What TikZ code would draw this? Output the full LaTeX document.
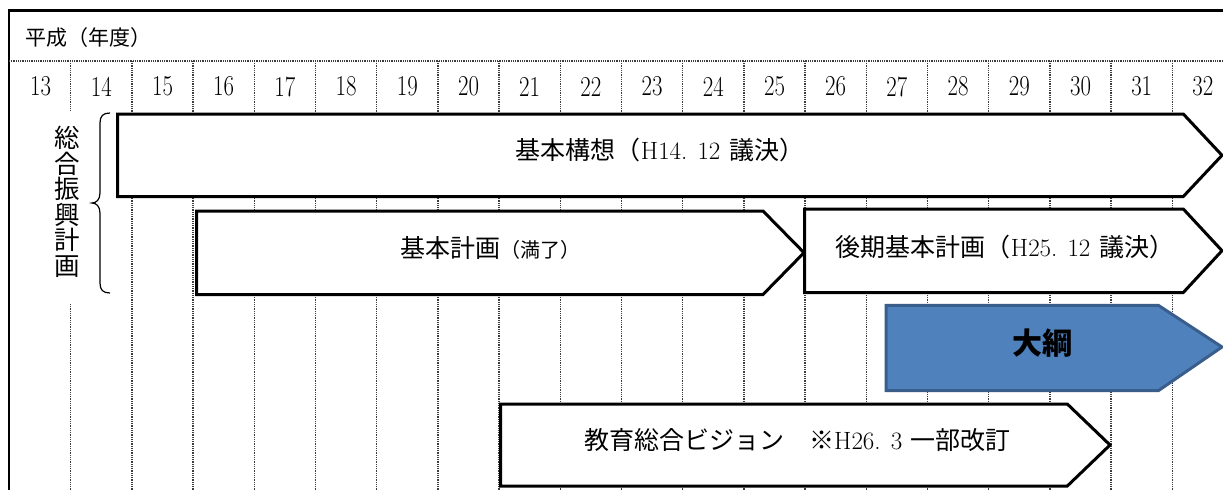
\documentclass[tikz,border=0pt]{standalone}
\usepackage{graphicx}
\usepackage{fontspec}
\newfontfamily\jp{Noto Sans CJK JP}
\newcommand\lat[1]{{\rmfamily #1}}
\definecolor{taikofill}{HTML}{4F81BD}
\definecolor{taikoborder}{HTML}{3A5E8C}
\definecolor{gridgray}{HTML}{3C3C3C}
\begin{document}
\begin{tikzpicture}[x=1pt,y=-1pt,
  frame/.style={line width=2.5pt,black,line join=miter},
  gridline/.style={line width=1.3pt,gridgray,dash pattern=on 1pt off 0.8pt},
  plan/.style={line width=3pt,draw=black,fill=white,line join=miter},
  blueplan/.style={line width=3pt,draw=taikoborder,fill=taikofill,line join=miter},
  yr/.style={font=\fontsize{24}{24}\selectfont,inner sep=0pt},
  lbl/.style={font=\jp\fontsize{25}{27}\selectfont,inner sep=0pt}
]
\useasboundingbox (0,0) rectangle (1223,490);
\fill[white] (0,0) rectangle (1223,490);
% frame
\draw[frame] (1223,10.5) -- (9,10.5) -- (9,490);
% grid
\draw[gridline] (9,61) -- (1223,61);
\draw[gridline] (70.7,61) -- (70.7,111);
\draw[gridline] (70.7,304) -- (70.7,490);
\foreach \i in {1,...,18}
  \draw[gridline] ({70.7+61.2*\i},61) -- ({70.7+61.2*\i},490);
% header
\node[font=\jp\fontsize{21}{22}\selectfont,anchor=west,inner sep=0pt] (hdr) at (25,37.5) {平成（年度）};
% years
\node[yr] (y13) at (40.5,86.5) {\scalebox{0.95}[1.2]{13}};
\foreach \y in {14,...,32}
  \node[yr] (y\y) at ({70.7+61.2*(\y-14)+30.6},86.5) {\scalebox{0.95}[1.2]{\y}};
% vertical title and brace
\node[font=\jp\fontsize{25.5}{25.5}\selectfont,align=center,inner sep=0pt] (vt) at (67.5,202) {総\\合\\振\\興\\計\\画};
\draw[line width=1.2pt] (110,113) .. controls (103,113) and (100,116) .. (100,123) -- (100,193)
  .. controls (100,200) and (96,203) .. (92,203) .. controls (96,203) and (100,206) .. (100,213)
  -- (100,283) .. controls (100,290) and (103,293) .. (110,293);
% arrows
\draw[plan] (117.5,114) -- (1183.3,114) -- (1222,155.3) -- (1183.3,196.5) -- (117.5,196.5) -- cycle;
\draw[plan] (196.5,211) -- (763,211) -- (804,252.7) -- (763,294.5) -- (196.5,294.5) -- cycle;
\draw[plan] (804.5,209) -- (1183.3,209) -- (1222,250.7) -- (1183.3,292.5) -- (804.5,292.5) -- cycle;
\draw[blueplan] (886,305.3) -- (1158.3,305.3) -- (1222,347) -- (1158.3,390.7) -- (886,390.7) -- cycle;
\draw[plan] (500.5,404) -- (1067.3,404) -- (1110,445) -- (1067.3,486) -- (500.5,486) -- cycle;
% labels
\node[lbl] (t1) at (660,149.5) {基本構想（\lat{H14. 12}\hspace{3pt} 議決）};
\node[lbl] (t2) at (490,248) {基本計画{\fontsize{20}{20}\selectfont（満了）}};
\node[lbl] (t3) at (1005,246.5) {後期基本計画（\lat{H25. 12}\hspace{3pt} 議決）};
\node[font=\jp\bfseries\fontsize{30}{30}\selectfont,inner sep=0pt] (t4) at (1042,343) {大綱};
\node[lbl] (t5) at (797.5,440) {教育総合ビジョン　※\lat{H26. 3}\hspace{3pt} 一部改訂};
\end{tikzpicture}
\end{document}
